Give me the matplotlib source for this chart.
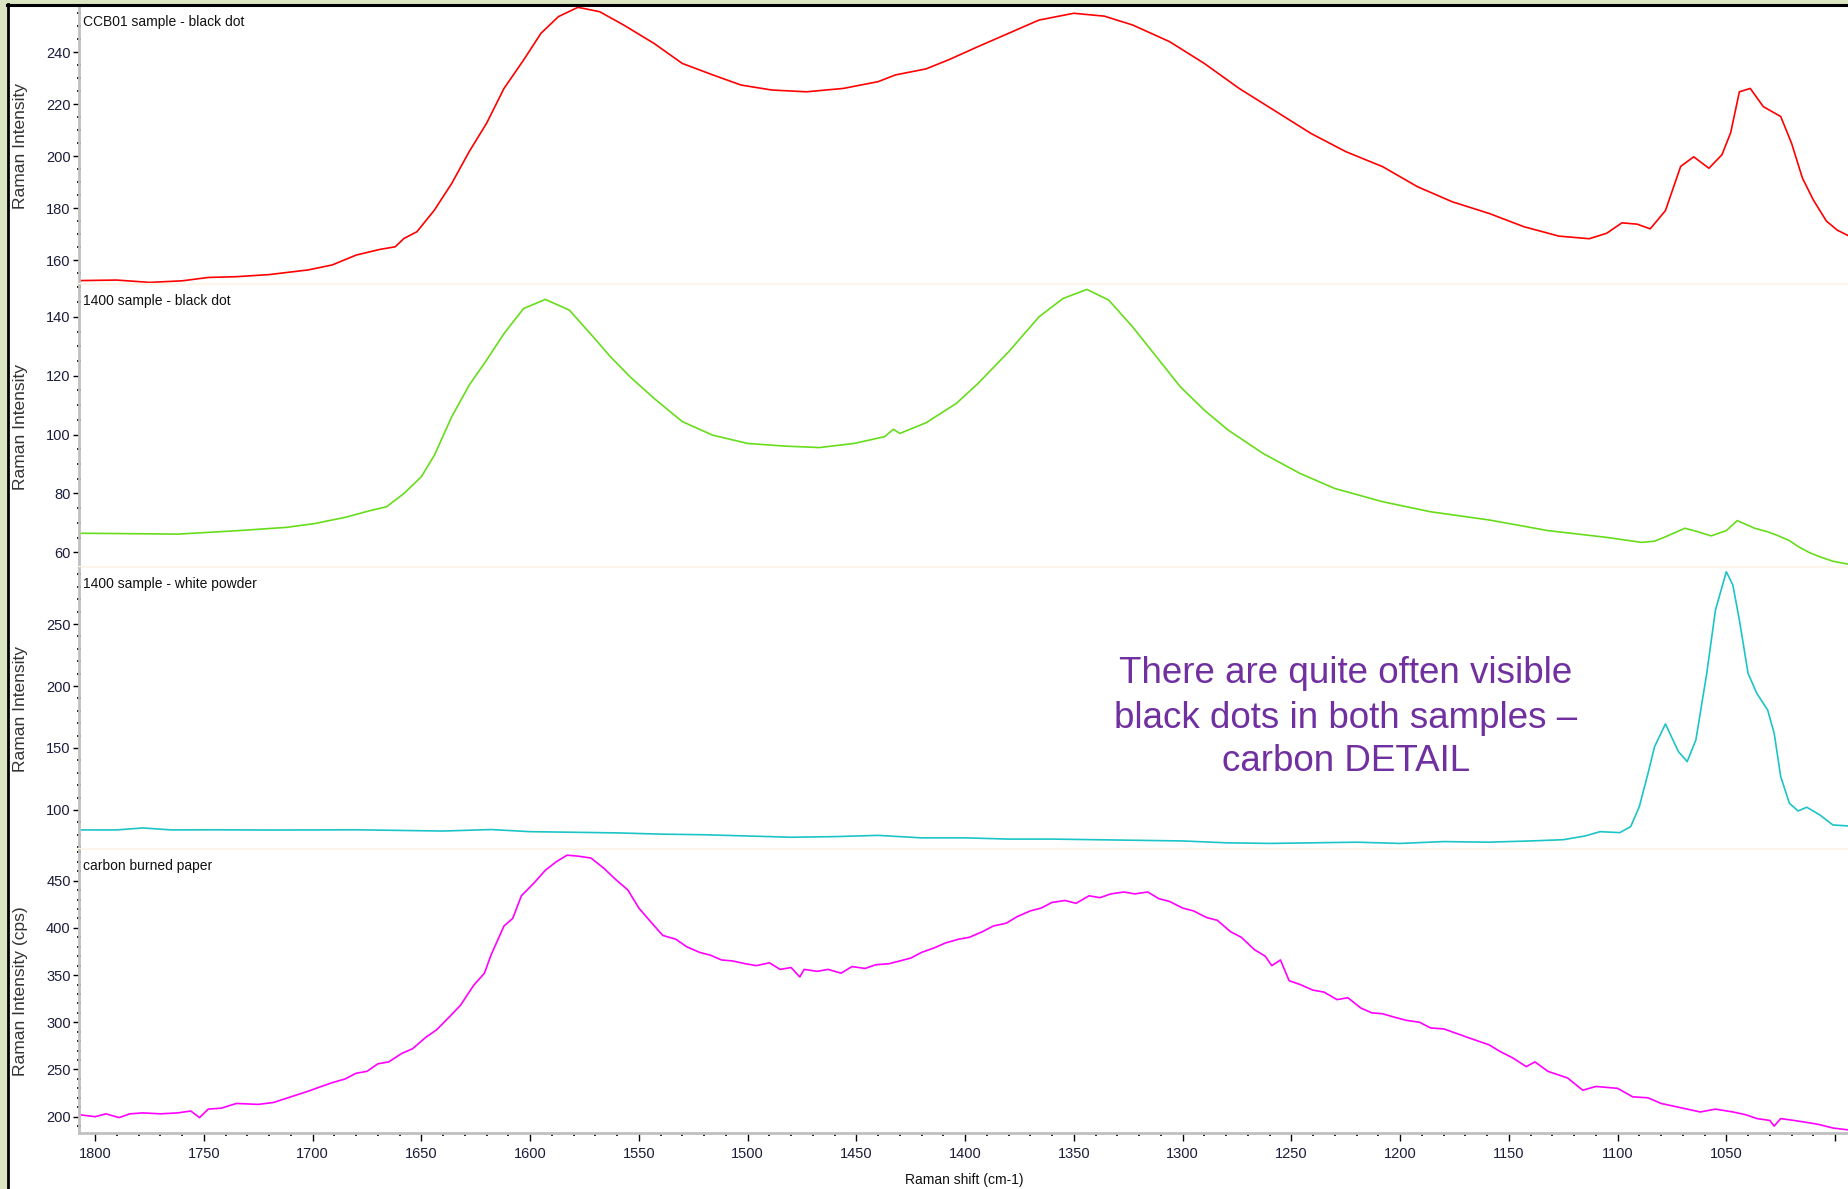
import matplotlib
matplotlib.use("Agg")
import matplotlib.pyplot as plt
from matplotlib import font_manager
from matplotlib.ticker import MultipleLocator, FixedLocator, FixedFormatter
from matplotlib.patches import Rectangle
from matplotlib.lines import Line2D

# Raman spectra, wavenumber (cm-1) vs intensity
ccb01_shift = [1807, 1790, 1775, 1760, 1748, 1735, 1720, 1702, 1691, 1680, 1669, 1662, 1658, 1652,
               1644, 1636, 1628, 1620, 1612, 1603, 1595, 1587, 1578, 1568, 1557, 1543, 1530, 1516,
               1503, 1489, 1473, 1456, 1440, 1432, 1418, 1407, 1394, 1380, 1366, 1350, 1336, 1323,
               1306, 1290, 1274, 1257, 1241, 1225, 1208, 1192, 1176, 1159, 1143, 1127, 1113, 1105,
               1098, 1091, 1085, 1078, 1071, 1065, 1058, 1052, 1048, 1044, 1039, 1033, 1025, 1020,
               1015, 1010, 1004, 999, 994]
ccb01_int = [152.1, 152.3, 151.4, 152.0, 153.3, 153.6, 154.4, 156.2, 158.1, 161.9, 164.1, 165.1, 168.3, 170.9,
             179.2, 189.5, 201.7, 212.6, 226.0, 236.9, 247.2, 253.6, 257.2, 255.5, 250.4, 243.3, 235.6, 231.2,
             227.3, 225.4, 224.7, 226.0, 228.6, 231.2, 233.5, 237.2, 242.1, 247.2, 252.3, 254.9, 253.8, 250.4,
             244.0, 235.6, 226.0, 217.1, 208.7, 201.7, 195.9, 188.2, 182.4, 177.9, 172.8, 169.2, 168.2, 170.3,
             174.3, 173.8, 172.0, 179.0, 196.0, 199.7, 195.3, 200.5, 209.0, 224.7, 226.0, 219.0, 215.2, 204.9,
             191.5, 183.1, 175.0, 171.5, 169.4]

black_shift = [1807, 1790, 1762, 1734, 1712, 1699, 1685, 1674, 1666, 1658, 1650, 1644, 1636, 1628,
               1620, 1612, 1603, 1593, 1582, 1571, 1563, 1554, 1543, 1530, 1516, 1500, 1483, 1467,
               1451, 1437, 1433, 1430, 1418, 1404, 1394, 1380, 1366, 1355, 1344, 1334, 1323, 1312,
               1301, 1290, 1279, 1263, 1246, 1230, 1208, 1186, 1159, 1132, 1105, 1089, 1083, 1078,
               1069, 1063, 1057, 1050, 1045, 1041, 1037, 1031, 1026, 1021, 1017, 1012, 1007, 1001, 994]
black_int = [66.5, 66.4, 66.2, 67.4, 68.5, 69.8, 71.9, 74.1, 75.5, 80.0, 85.7, 93.0, 106.1, 116.8,
             125.3, 134.3, 142.8, 145.9, 142.3, 133.2, 126.4, 119.6, 112.3, 104.4, 99.8, 97.0, 96.1, 95.6,
             97.0, 99.3, 101.8, 100.4, 104.0, 110.6, 117.4, 128.1, 140.0, 146.2, 149.3, 145.7, 136.6, 126.4,
             116.2, 108.3, 101.5, 93.6, 86.8, 81.7, 77.2, 73.8, 71.0, 67.4, 65.1, 63.4, 63.8, 65.3,
             68.2, 67.0, 65.6, 67.4, 70.8, 69.5, 68.2, 67.0, 65.6, 64.0, 62.0, 60.0, 58.5, 57.0, 56.0]

white_shift = [1807, 1790, 1778, 1765, 1745, 1720, 1700, 1680, 1660, 1640, 1618, 1600, 1580, 1560,
               1540, 1520, 1500, 1480, 1460, 1440, 1430, 1420, 1400, 1380, 1360, 1340, 1320, 1300,
               1280, 1260, 1240, 1220, 1200, 1180, 1160, 1140, 1125, 1115, 1108, 1099, 1094, 1090,
               1086, 1083, 1078, 1072, 1068, 1064, 1059, 1055, 1050, 1047, 1044, 1040, 1036, 1031,
               1028, 1025, 1021, 1017, 1013, 1007, 1001, 994]
white_int = [83.9, 83.9, 85.5, 83.9, 84.0, 83.8, 83.9, 84.0, 83.5, 83.0, 84.2, 82.5, 82.0, 81.5,
             80.5, 80.0, 79.0, 78.0, 78.5, 79.5, 78.5, 77.5, 77.5, 76.5, 76.5, 76.0, 75.5, 75.0,
             73.5, 73.0, 73.5, 74.0, 73.0, 74.5, 74.0, 75.0, 76.0, 79.0, 82.5, 81.7, 86.5, 102.7,
             129.6, 151.0, 169.4, 147.0, 139.0, 156.5, 210.2, 261.3, 292.2, 281.5, 253.2, 210.2, 194.1, 180.6,
             161.9, 126.9, 105.4, 99.2, 102.2, 96.0, 87.9, 87.1]

paper_shift = [1807, 1800, 1795, 1789, 1784, 1778, 1770, 1762, 1756, 1752, 1748, 1742, 1735, 1725,
               1718, 1710, 1702, 1696, 1691, 1685, 1680, 1675, 1670, 1665, 1659, 1654, 1648, 1643,
               1637, 1632, 1626, 1621, 1618, 1612, 1608, 1604, 1598, 1593, 1588, 1583, 1578, 1572,
               1566, 1561, 1555, 1550, 1544, 1539, 1533, 1528, 1522, 1517, 1512, 1507, 1501, 1496,
               1490, 1485, 1480, 1476, 1474, 1468, 1463, 1457, 1452, 1446, 1441, 1435, 1430, 1425,
               1420, 1414, 1409, 1403, 1398, 1392, 1387, 1381, 1376, 1370, 1365, 1360, 1354, 1349,
               1343, 1338, 1333, 1327, 1322, 1316, 1311, 1306, 1300, 1295, 1289, 1284, 1278, 1273,
               1267, 1262, 1259, 1255, 1251, 1246, 1240, 1235, 1229, 1224, 1218, 1213, 1208, 1202,
               1197, 1191, 1186, 1180, 1175, 1169, 1164, 1159, 1154, 1148, 1142, 1138, 1132, 1123,
               1116, 1110, 1100, 1093, 1086, 1080, 1072, 1062, 1055, 1047, 1041, 1036, 1030, 1028,
               1025, 1016, 1008, 1001, 994]
paper_int = [202, 200, 203, 199, 203, 204, 203, 204, 206, 199, 208, 209, 214, 213,
             215, 221, 227, 232, 236, 240, 246, 248, 256, 258, 267, 272, 284, 292,
             306, 318, 339, 352, 371, 402, 410, 434, 448, 461, 470, 477, 476, 474,
             463, 452, 440, 421, 405, 392, 388, 380, 374, 371, 366, 365, 362, 360,
             363, 356, 358, 348, 356, 354, 356, 352, 359, 357, 361, 362, 365, 368,
             374, 379, 384, 388, 390, 396, 402, 405, 412, 418, 421, 427, 429, 426,
             434, 432, 436, 438, 436, 438, 431, 428, 421, 418, 411, 408, 396, 390,
             377, 370, 360, 366, 344, 340, 334, 332, 324, 326, 315, 310, 309, 305,
             302, 300, 294, 293, 289, 284, 280, 276, 269, 262, 253, 258, 248, 241,
             228, 232, 230, 221, 220, 214, 210, 205, 208, 205, 202, 198, 196, 190,
             198, 195, 192, 188, 186]

x_ticks = [1800, 1750, 1700, 1650, 1600, 1550, 1500, 1450, 1400, 1350, 1300, 1250, 1200, 1150, 1100, 1050, 1000]
x_labels = ["1800", "1750", "1700", "1650", "1600", "1550", "1500", "1450", "1400", "1350",
            "1300", "1250", "1200", "1150", "1100", "1050", ""]

note_lines = ["There are quite often visible", "black dots in both samples \u2013", "carbon DETAIL"]

# narrow face for the instrument-style labels if the system has one
installed = {f.name for f in font_manager.fontManager.ttflist}
if 'Liberation Sans Narrow' in installed:
    small_font, small_size = 'Liberation Sans Narrow', 11
else:
    small_font, small_size = 'Liberation Sans', 10
plt.rcParams['font.family'] = [small_font, 'DejaVu Sans']

W, H = 1849, 1189
fig = plt.figure(figsize=(W / 100, H / 100), dpi=100, facecolor='#dbe5c3')

# white screen area with black window edge
fig.add_artist(Rectangle((9 / W, 0), 1, 1 - 6 / H, transform=fig.transFigure,
                         facecolor='white', edgecolor='none', zorder=-1))
fig.add_artist(Line2D([8 / W, 8 / W], [0, 1 - 4 / H], transform=fig.transFigure,
                      color='black', lw=2, zorder=10))
fig.add_artist(Line2D([7 / W, 1], [1 - 5 / H, 1 - 5 / H], transform=fig.transFigure,
                      color='black', lw=2.2, zorder=10))

left = 79 / W
bounds = [6, 285, 568, 850, 1133]

panels = [
    (ccb01_shift, ccb01_int, '#ff0000', (150.4, 257.7), 20, 5, 'CCB01 sample - black dot', 'Raman Intensity'),
    (black_shift, black_int, '#66dd1a', (54.7, 150.8), 20, 5, '1400 sample - black dot', 'Raman Intensity'),
    (white_shift, white_int, '#1cc4c8', (67.7, 295.2), 50, 10, '1400 sample - white powder', 'Raman Intensity'),
    (paper_shift, paper_int, '#ff00ff', (182.7, 482.5), 50, 10, 'carbon burned paper', 'Raman Intensity (cps)'),
]

tick_color = '#1c1c3c'
axes = []
for i, (xs, ys, col, ylim, major, minor, title, ylab) in enumerate(panels):
    top_px, bot_px = bounds[i], bounds[i + 1]
    ax = fig.add_axes([left, 1 - bot_px / H, 1 - left, (bot_px - top_px) / H])
    ax.set_facecolor('white')
    ax.plot(xs, ys, color=col, lw=1.2)
    ax.set_xlim(1807.4, 993.6)
    ax.set_ylim(*ylim)
    ax.yaxis.set_major_locator(MultipleLocator(major))
    ax.yaxis.set_minor_locator(MultipleLocator(minor))
    ax.tick_params(axis='y', which='major', direction='out', length=4, width=1,
                   color='black', pad=2, labelsize=small_size + 0.5, labelcolor=tick_color)
    ax.tick_params(axis='y', which='minor', direction='inout', length=2.5, width=1.2, color='black')
    for s in ['top', 'right']:
        ax.spines[s].set_visible(False)
    ax.spines['left'].set_color('#c0c0c0')
    ax.spines['left'].set_linewidth(2)
    ax.set_ylabel(ylab, family='Liberation Sans', fontsize=12.5, color='#333333')
    ax.yaxis.set_label_coords(-0.029, 0.5)
    ax.annotate(title, xy=(0, 1), xycoords='axes fraction', xytext=(3, -6.5),
                textcoords='offset points', ha='left', va='top', fontsize=small_size, color='#111111')
    if i < 3:
        ax.spines['bottom'].set_color('#fdf6e8')
        ax.spines['bottom'].set_linewidth(3)
        ax.tick_params(axis='x', which='both', bottom=False, labelbottom=False)
    axes.append(ax)

ax4 = axes[-1]
ax4.spines['bottom'].set_color('#c0c0c0')
ax4.spines['bottom'].set_linewidth(2)
ax4.xaxis.set_major_locator(FixedLocator(x_ticks))
ax4.xaxis.set_major_formatter(FixedFormatter(x_labels))
ax4.xaxis.set_minor_locator(MultipleLocator(10))
ax4.tick_params(axis='x', which='major', direction='out', length=6, width=1, color='black',
                pad=4, labelsize=small_size + 0.5, labelcolor=tick_color)
ax4.tick_params(axis='x', which='minor', direction='out', length=2.5, width=1.2, color='black')
ax4.set_xlabel('Raman shift (cm-1)', fontsize=small_size, color='#111111')
ax4.xaxis.set_label_coords(0.5, -0.141)

# callout text
for line, ypx in zip(note_lines, [683, 728, 771]):
    fig.text(1346 / W, 1 - ypx / H, line, ha='center', va='baseline', color='#7030a0',
             fontsize=26.5, family='Liberation Sans')

fig.savefig('out.png', dpi=100, facecolor=fig.get_facecolor())
